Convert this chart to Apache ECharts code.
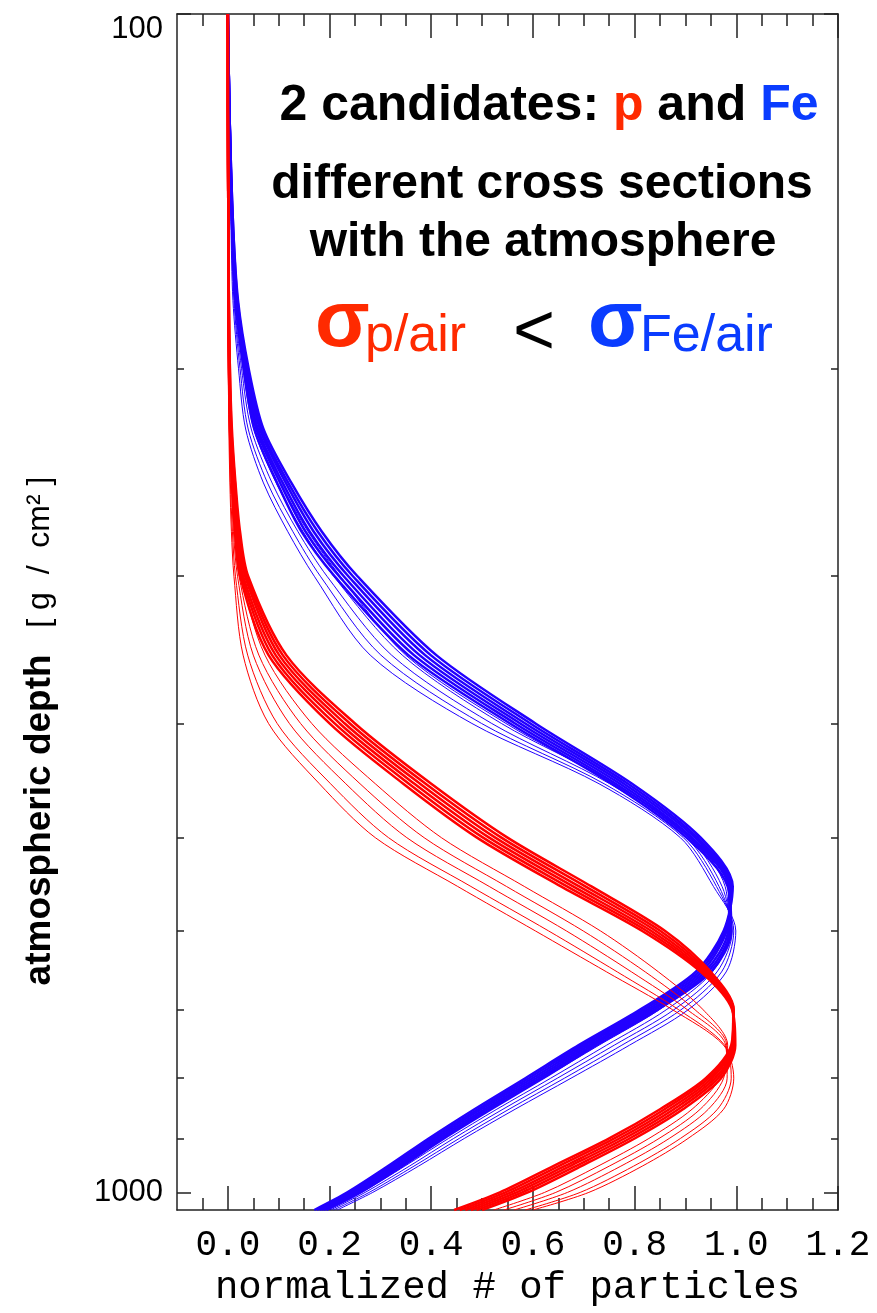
<!DOCTYPE html>
<html>
<head>
<meta charset="utf-8">
<script src="https://cdn.jsdelivr.net/npm/echarts@6/dist/echarts.min.js"></script>
<style>
  html, body { margin: 0; padding: 0; background: #fff; }
  #chart { width: 877px; height: 1313px; }
</style>
</head>
<body>
<div id="chart"></div>
<script>
var depthGrid = [100, 120, 150, 175, 200, 225, 250, 275, 300, 350, 400, 450, 500, 550, 600, 650, 700, 750, 800, 850, 900, 950, 1000, 1035];

// Fe profiles: dense core band
var feA = [0, 0.003, 0.01, 0.02, 0.041, 0.07, 0.125, 0.185, 0.255, 0.41, 0.605, 0.795, 0.93, 0.993, 0.975, 0.92, 0.81, 0.69, 0.585, 0.485, 0.395, 0.315, 0.235, 0.17];
var feB = [0, 0.003, 0.01, 0.019, 0.039, 0.066, 0.119, 0.177, 0.246, 0.399, 0.595, 0.787, 0.924, 0.991, 0.978, 0.926, 0.817, 0.697, 0.592, 0.492, 0.401, 0.321, 0.24, 0.175];
var feC = [0, 0.003, 0.009, 0.018, 0.037, 0.063, 0.114, 0.169, 0.237, 0.388, 0.585, 0.779, 0.919, 0.989, 0.981, 0.932, 0.824, 0.704, 0.599, 0.498, 0.407, 0.326, 0.245, 0.18];
var feD = [0, 0.003, 0.009, 0.017, 0.035, 0.059, 0.108, 0.161, 0.228, 0.377, 0.575, 0.771, 0.913, 0.987, 0.984, 0.938, 0.831, 0.711, 0.606, 0.505, 0.413, 0.332, 0.251, 0.184];
var feE = [0, 0.003, 0.008, 0.016, 0.033, 0.056, 0.103, 0.153, 0.219, 0.366, 0.565, 0.763, 0.908, 0.985, 0.987, 0.944, 0.838, 0.718, 0.613, 0.511, 0.419, 0.337, 0.256, 0.189];
var feF = [0, 0.003, 0.008, 0.015, 0.031, 0.052, 0.097, 0.145, 0.21, 0.355, 0.555, 0.755, 0.902, 0.983, 0.99, 0.95, 0.845, 0.725, 0.62, 0.518, 0.425, 0.343, 0.261, 0.194];
// Fe profiles: stragglers below the band
var feO1 = [0, 0.003, 0.008, 0.016, 0.033, 0.056, 0.103, 0.158, 0.221, 0.35, 0.547, 0.758, 0.914, 0.978, 0.985, 0.944, 0.848, 0.73, 0.621, 0.517, 0.423, 0.339, 0.255, 0.188];
var feO2 = [0, 0.003, 0.008, 0.015, 0.03, 0.051, 0.095, 0.148, 0.208, 0.343, 0.538, 0.762, 0.908, 0.972, 0.988, 0.953, 0.862, 0.745, 0.635, 0.529, 0.434, 0.348, 0.263, 0.195];
var feO3 = [0, 0.003, 0.007, 0.013, 0.027, 0.046, 0.087, 0.138, 0.195, 0.322, 0.519, 0.751, 0.902, 0.966, 0.992, 0.962, 0.877, 0.76, 0.648, 0.541, 0.444, 0.357, 0.27, 0.202];
var feO4 = [0, 0.003, 0.007, 0.012, 0.024, 0.04, 0.078, 0.128, 0.182, 0.301, 0.499, 0.74, 0.896, 0.961, 0.995, 0.971, 0.891, 0.775, 0.662, 0.553, 0.455, 0.366, 0.278, 0.208];
var feO5 = [0, 0.003, 0.006, 0.01, 0.021, 0.035, 0.07, 0.118, 0.17, 0.28, 0.48, 0.73, 0.89, 0.955, 0.999, 0.98, 0.905, 0.79, 0.675, 0.565, 0.465, 0.375, 0.285, 0.215];

// proton profiles: dense core band
var pA = [0, 0, 0.001, 0.002, 0.004, 0.008, 0.015, 0.024, 0.04, 0.115, 0.25, 0.4, 0.55, 0.715, 0.86, 0.95, 0.995, 0.99, 0.94, 0.85, 0.75, 0.64, 0.535, 0.445];
var pB = [0, 0, 0.001, 0.002, 0.004, 0.007, 0.014, 0.022, 0.037, 0.108, 0.24, 0.389, 0.538, 0.703, 0.851, 0.946, 0.994, 0.992, 0.946, 0.859, 0.76, 0.651, 0.546, 0.456];
var pC = [0, 0, 0.001, 0.002, 0.003, 0.006, 0.012, 0.02, 0.034, 0.101, 0.23, 0.378, 0.526, 0.691, 0.842, 0.942, 0.994, 0.993, 0.952, 0.868, 0.77, 0.662, 0.557, 0.467];
var pD = [0, 0, 0.001, 0.001, 0.003, 0.006, 0.011, 0.018, 0.03, 0.094, 0.22, 0.367, 0.514, 0.679, 0.833, 0.938, 0.993, 0.995, 0.958, 0.877, 0.78, 0.673, 0.568, 0.478];
var pE = [0, 0, 0.001, 0.001, 0.002, 0.005, 0.009, 0.016, 0.027, 0.087, 0.21, 0.356, 0.502, 0.667, 0.824, 0.934, 0.993, 0.996, 0.964, 0.886, 0.79, 0.684, 0.579, 0.489];
var pF = [0, 0, 0.001, 0.001, 0.002, 0.004, 0.008, 0.014, 0.024, 0.08, 0.2, 0.345, 0.49, 0.655, 0.815, 0.93, 0.992, 0.998, 0.97, 0.895, 0.8, 0.695, 0.59, 0.5];
// proton profiles: late developing showers
var pO1 = [0, 0, 0.001, 0.001, 0.003, 0.005, 0.01, 0.016, 0.026, 0.073, 0.165, 0.29, 0.42, 0.583, 0.733, 0.847, 0.935, 0.983, 0.968, 0.913, 0.828, 0.728, 0.623, 0.523];
var pO2 = [0, 0, 0.001, 0.001, 0.002, 0.004, 0.008, 0.013, 0.022, 0.061, 0.143, 0.26, 0.386, 0.548, 0.699, 0.821, 0.919, 0.981, 0.975, 0.929, 0.848, 0.75, 0.645, 0.543];
var pO3 = [0, 0, 0.001, 0.001, 0.002, 0.003, 0.007, 0.011, 0.019, 0.05, 0.121, 0.232, 0.352, 0.514, 0.666, 0.794, 0.904, 0.979, 0.982, 0.945, 0.868, 0.773, 0.668, 0.563];
var pO4 = [0, 0, 0, 0, 0.001, 0.003, 0.005, 0.009, 0.015, 0.039, 0.097, 0.202, 0.316, 0.478, 0.631, 0.766, 0.887, 0.977, 0.99, 0.963, 0.89, 0.798, 0.693, 0.585];
var pO5 = [0, 0, 0, 0, 0.001, 0.002, 0.004, 0.007, 0.012, 0.03, 0.08, 0.18, 0.29, 0.452, 0.605, 0.745, 0.875, 0.975, 0.995, 0.975, 0.905, 0.815, 0.71, 0.6];

// axis ticks
var xMajor = [0, 0.2, 0.4, 0.6, 0.8, 1.0, 1.2];
var xMinor = [-0.05, 0.05, 0.1, 0.15, 0.25, 0.3, 0.35, 0.45, 0.5, 0.55, 0.65, 0.7, 0.75, 0.85, 0.9, 0.95, 1.05, 1.1, 1.15];
var yMajor = [100, 1000];
var yMinor = [200, 300, 400, 500, 600, 700, 800, 900];

var RED = '#ff0000';
var BLUE = '#2200ff';
var INK = '#222';

var toPoints = function (xs) {
    return xs.map(function (x, i) { return [x, depthGrid[i]]; });
};

var profile = function (xs, color, width) {
    return {
        type: 'line',
        data: toPoints(xs),
        symbol: 'none',
        smooth: 0.3,
        clip: true,
        silent: true,
        lineStyle: { color: color, width: width }
    };
};

var xAxisBase = function (pos, ticks, len) {
    return {
        type: 'value', position: pos, min: -0.1, max: 1.2,
        axisLine: { show: false, onZero: false },
        axisTick: { inside: true, length: len, customValues: ticks, lineStyle: { color: INK, width: 1.5 } },
        axisLabel: { show: false },
        splitLine: { show: false }
    };
};
var yAxisBase = function (pos, ticks, len) {
    return {
        type: 'log', logBase: 10, position: pos, inverse: true, min: 100, max: 1035,
        axisLine: { show: false, onZero: false },
        axisTick: { inside: true, length: len, customValues: ticks, lineStyle: { color: INK, width: 1.5 } },
        axisLabel: { show: false },
        splitLine: { show: false },
        minorTick: { show: false }
    };
};

var xBottom = xAxisBase('bottom', xMajor, 24);
xBottom.axisLine = { show: true, onZero: false, lineStyle: { color: INK, width: 1.5 } };
xBottom.axisLabel = {
    show: true, customValues: xMajor, margin: 17,
    formatter: function (v) { return Number(v).toFixed(1); },
    fontFamily: 'Liberation Mono', fontSize: 36, color: '#000'
};
xBottom.name = 'normalized # of particles';
xBottom.nameLocation = 'middle';
xBottom.nameGap = 55;
xBottom.nameTextStyle = { fontFamily: 'Liberation Mono', fontSize: 39, color: '#000' };

var xTop = xAxisBase('top', xMajor, 24);
xTop.axisLine = { show: true, onZero: false, lineStyle: { color: INK, width: 1.5 } };

var yLeft = yAxisBase('left', yMajor, 14);
yLeft.axisLine = { show: true, onZero: false, lineStyle: { color: INK, width: 1.5 } };
yLeft.axisLabel = {
    show: true, customValues: yMajor, margin: 14,
    verticalAlignMinLabel: 'top',
    formatter: function (v) { return String(Math.round(v)); },
    fontFamily: 'Liberation Sans', fontSize: 31, color: '#000'
};
var yRight = yAxisBase('right', yMajor, 14);
yRight.axisLine = { show: true, onZero: false, lineStyle: { color: INK, width: 1.5 } };

var series = [];
[feO1, feO2, feO3, feO4, feO5].forEach(function (xs) { series.push(profile(xs, BLUE, 1)); });
[feA, feB, feC, feD, feE, feF].forEach(function (xs) { series.push(profile(xs, BLUE, 2.5)); });
[pO1, pO2, pO3, pO4, pO5].forEach(function (xs) { series.push(profile(xs, RED, 1)); });
[pA, pB, pC, pD, pE, pF].forEach(function (xs) { series.push(profile(xs, RED, 2.5)); });

var chart = echarts.init(document.getElementById('chart'), null, { renderer: 'canvas' });
chart.setOption({
    animation: false,
    backgroundColor: '#fff',
    grid: { left: 177, right: 39, top: 14, bottom: 103, containLabel: false },
    xAxis: [xBottom, xAxisBase('bottom', xMinor, 12), xTop, xAxisBase('top', xMinor, 12)],
    yAxis: [yLeft, yAxisBase('left', yMinor, 7), yRight, yAxisBase('right', yMinor, 7)],
    series: series,
    graphic: [
        {
            type: 'text', x: 40, y: 731, rotation: Math.PI / 2,
            style: {
                text: '{b|atmospheric depth}{n|   [ g  /  cm² ]}',
                align: 'center', verticalAlign: 'middle',
                rich: {
                    b: { fontFamily: 'Liberation Sans', fontWeight: 'bold', fontSize: 37, fill: '#000' },
                    n: { fontFamily: 'Liberation Sans', fontSize: 32, fill: '#000' }
                }
            }
        },
        {
            type: 'text', x: 549, y: 106,
            style: {
                text: '{k|2 candidates: }{r|p}{k| and }{b|Fe}',
                align: 'center', verticalAlign: 'middle',
                rich: {
                    k: { fontFamily: 'Liberation Sans', fontWeight: 'bold', fontSize: 50, fill: '#000' },
                    r: { fontFamily: 'Liberation Sans', fontWeight: 'bold', fontSize: 50, fill: '#ff2a00' },
                    b: { fontFamily: 'Liberation Sans', fontWeight: 'bold', fontSize: 50, fill: '#0a3cff' }
                }
            }
        },
        {
            type: 'text', x: 542, y: 185,
            style: { text: 'different cross sections', align: 'center', verticalAlign: 'middle',
                font: 'bold 48px "Liberation Sans"', fill: '#000' }
        },
        {
            type: 'text', x: 543, y: 243,
            style: { text: 'with the atmosphere', align: 'center', verticalAlign: 'middle',
                font: 'bold 48px "Liberation Sans"', fill: '#000' }
        },
        { type: 'text', x: 315, y: 324, style: { text: 'σ', align: 'left', verticalAlign: 'middle', font: 'bold 80px "Liberation Sans"', fill: '#ff2a00' } },
        { type: 'text', x: 365, y: 337, style: { text: 'p/air', align: 'left', verticalAlign: 'middle', font: '52px "Liberation Sans"', fill: '#ff2a00' } },
        { type: 'text', x: 513, y: 334, style: { text: '<', align: 'left', verticalAlign: 'middle', font: '72px "Liberation Sans"', fill: '#000' } },
        { type: 'text', x: 588, y: 324, style: { text: 'σ', align: 'left', verticalAlign: 'middle', font: 'bold 80px "Liberation Sans"', fill: '#0a3cff' } },
        { type: 'text', x: 640, y: 337, style: { text: 'Fe/air', align: 'left', verticalAlign: 'middle', font: '52px "Liberation Sans"', fill: '#0a3cff' } }
    ]
});
</script>
</body>
</html>
